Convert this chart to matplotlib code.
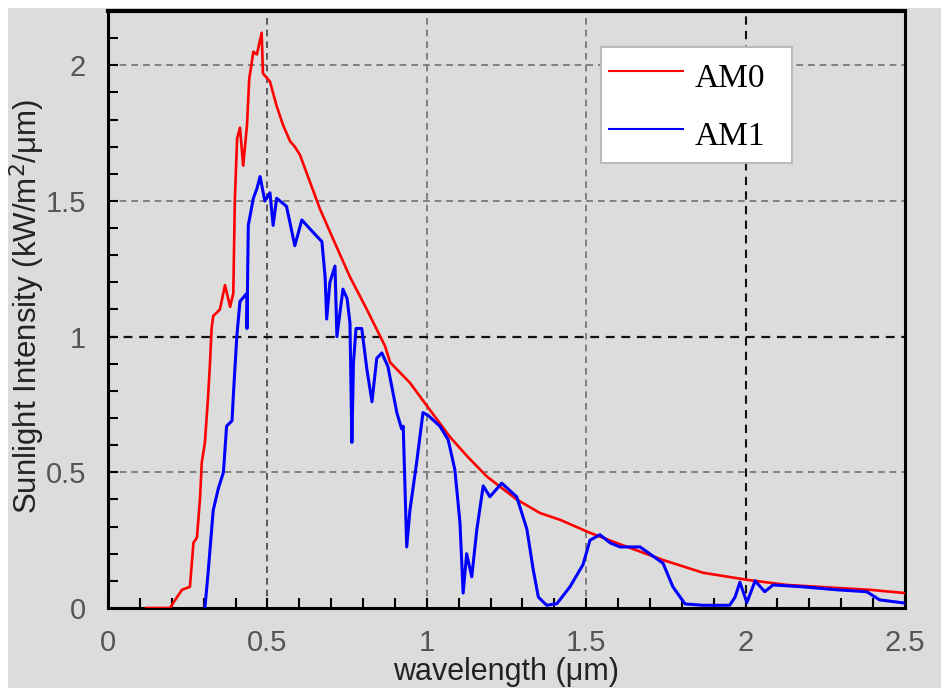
import matplotlib
matplotlib.use("Agg")
import matplotlib.pyplot as plt
from matplotlib.patches import Rectangle
from matplotlib.ticker import MultipleLocator

# AM0 spectrum (extraterrestrial)
am0_wl = [0.12, 0.195, 0.204, 0.232, 0.257, 0.268, 0.279, 0.289, 0.294, 0.304, 0.314,
          0.320, 0.325, 0.330, 0.351, 0.367, 0.383, 0.393, 0.398, 0.405, 0.414, 0.424,
          0.436, 0.443, 0.456, 0.467, 0.482, 0.486, 0.508, 0.529, 0.549, 0.571, 0.586,
          0.602, 0.665, 0.706, 0.759, 0.812, 0.869, 0.885, 0.947, 1.004, 1.073, 1.126,
          1.188, 1.282, 1.355, 1.418, 1.512, 1.606, 1.741, 1.866, 2.004, 2.13, 2.287,
          2.39, 2.5]
am0_val = [0.0, 0.0, 0.018, 0.067, 0.078, 0.24, 0.26, 0.41, 0.535, 0.61, 0.78,
           0.905, 1.03, 1.076, 1.10, 1.19, 1.11, 1.16, 1.51, 1.73, 1.77, 1.63,
           1.78, 1.95, 2.05, 2.04, 2.12, 1.97, 1.94, 1.85, 1.78, 1.72, 1.70,
           1.67, 1.47, 1.36, 1.22, 1.10, 0.965, 0.905, 0.83, 0.739, 0.63, 0.56,
           0.485, 0.40, 0.35, 0.325, 0.277, 0.235, 0.177, 0.13, 0.104, 0.085, 0.074,
           0.067, 0.055]

# AM1 spectrum (one atmosphere)
am1_wl = [0.304, 0.314, 0.330, 0.346, 0.362, 0.372, 0.389, 0.393, 0.404, 0.414, 0.436,
          0.436, 0.440, 0.456, 0.467, 0.477, 0.492, 0.508, 0.518, 0.529, 0.560, 0.586,
          0.608, 0.643, 0.671, 0.681, 0.686, 0.696, 0.712, 0.718, 0.737, 0.750, 0.759,
          0.765, 0.770, 0.778, 0.796, 0.812, 0.828, 0.843, 0.859, 0.878, 0.906, 0.921,
          0.926, 0.937, 0.947, 0.968, 0.988, 1.004, 1.041, 1.067, 1.088, 1.104, 1.114,
          1.125, 1.141, 1.157, 1.177, 1.198, 1.235, 1.282, 1.314, 1.334, 1.350, 1.376,
          1.408, 1.449, 1.49, 1.512, 1.543, 1.575, 1.606, 1.669, 1.741, 1.772, 1.81,
          1.866, 1.95, 1.967, 1.982, 2.004, 2.03, 2.06, 2.086, 2.18, 2.287, 2.38,
          2.42, 2.5]
am1_val = [0.0, 0.13, 0.36, 0.44, 0.50, 0.67, 0.69, 0.78, 1.0, 1.13, 1.16,
           1.03, 1.41, 1.51, 1.545, 1.59, 1.50, 1.53, 1.41, 1.51, 1.48, 1.335,
           1.43, 1.385, 1.35, 1.22, 1.065, 1.20, 1.26, 1.0, 1.175, 1.14, 1.05,
           0.61, 0.905, 1.03, 1.03, 0.88, 0.76, 0.92, 0.94, 0.89, 0.72, 0.66,
           0.67, 0.225, 0.36, 0.535, 0.72, 0.71, 0.67, 0.62, 0.51, 0.315, 0.055,
           0.20, 0.115, 0.29, 0.45, 0.41, 0.46, 0.41, 0.29, 0.14, 0.04, 0.01,
           0.016, 0.078, 0.16, 0.25, 0.27, 0.24, 0.225, 0.225, 0.165, 0.078, 0.015,
           0.01, 0.01, 0.04, 0.095, 0.02, 0.10, 0.06, 0.085, 0.078, 0.067, 0.06,
           0.03, 0.018]

series_labels = ["AM0", "AM1"]
x_ticks = [0, 0.5, 1, 1.5, 2, 2.5]
x_tick_labels = ["0", "0.5", "1", "1.5", "2", "2.5"]
y_ticks = [0, 0.5, 1, 1.5, 2]
y_tick_labels = ["0", "0.5", "1", "1.5", "2"]

W, H = 941, 688
bg = "#dcdcdc"
fig = plt.figure(figsize=(W / 100, H / 100), dpi=100, facecolor=bg)
# white margins at top and left
fig.patches.append(Rectangle((0, 1 - 8 / H), 1, 8 / H, transform=fig.transFigure,
                             facecolor="white", edgecolor="none", zorder=-10))
fig.patches.append(Rectangle((0, 0), 8 / W, 1, transform=fig.transFigure,
                             facecolor="white", edgecolor="none", zorder=-10))

ax_l, ax_r, ax_b, ax_t = 108, 905, 608, 11  # pixel box of the axes
ax = fig.add_axes([ax_l / W, (H - ax_b) / H, (ax_r - ax_l) / W, (ax_b - ax_t) / H],
                  facecolor=bg)

ax.plot(am0_wl, am0_val, color="#ff0000", lw=1.9, label=series_labels[0], zorder=3)
ax.plot(am1_wl, am1_val, color="#0000ff", lw=2.2, label=series_labels[1], zorder=4)

ax.set_xlim(0, 2.5)
ax.set_ylim(0, 2.2)
ax.set_xticks(x_ticks)
ax.set_xticklabels(x_tick_labels)
ax.set_yticks(y_ticks)
ax.set_yticklabels(y_tick_labels)
ax.xaxis.set_minor_locator(MultipleLocator(0.1))
ax.yaxis.set_minor_locator(MultipleLocator(0.1))

ax.tick_params(which="both", direction="in", length=7, width=1.5, color="black",
               top=False, right=False)
ax.tick_params(which="major", labelsize=21, labelcolor="#555555")
ax.tick_params(axis="x", which="major", pad=15)
ax.tick_params(axis="y", which="major", pad=16)
for lab in ax.get_xticklabels() + ax.get_yticklabels():
    lab.set_family("Liberation Sans")

ax.grid(True, which="major", linestyle=(0, (4, 3)), color="#707070", lw=1.2)
ax.get_ygridlines()[2].set_color("#111111")
ax.get_ygridlines()[2].set_linewidth(1.6)
ax.get_xgridlines()[4].set_color("#111111")
ax.get_xgridlines()[4].set_linewidth(1.5)
ax.get_xgridlines()[1].set_color("#444444")

for s in ax.spines.values():
    s.set_linewidth(2.2)
    s.set_color("black")
ax.spines["top"].set_linewidth(3)

ax.set_xlabel("wavelength (μm)", fontsize=22, family="Liberation Sans",
              color="#222222")
ax.set_ylabel("Sunlight Intensity (kW/m$^2$/μm)", fontsize=22.5,
              family="Liberation Sans", color="#222222")
ax.xaxis.set_label_coords(0.5, -(657 - ax_b) / (ax_b - ax_t))
ax.yaxis.set_label_coords(-(ax_l - 47) / (ax_r - ax_l), 0.505)

lx0, ly0, lx1, ly1 = 601, 47, 792, 166  # legend box in pixels
leg = ax.legend(loc="upper left",
                bbox_to_anchor=((lx0 - ax_l) / (ax_r - ax_l), (ax_b - ly1) / (ax_b - ax_t),
                                (lx1 - lx0) / (ax_r - ax_l), (ly1 - ly0) / (ax_b - ax_t)),
                mode="expand",
                prop={"family": "Liberation Serif", "size": 24},
                frameon=True, fancybox=False, framealpha=1, edgecolor="#bbbbbb",
                handlelength=2.2, handleheight=1.52, handletextpad=0.36,
                labelspacing=0.5, borderpad=0.25, borderaxespad=0)
leg.get_frame().set_linewidth(1.5)
for line in leg.get_lines():
    line.set_linewidth(1.5)

fig.savefig("out.png", dpi=100, facecolor=bg)
